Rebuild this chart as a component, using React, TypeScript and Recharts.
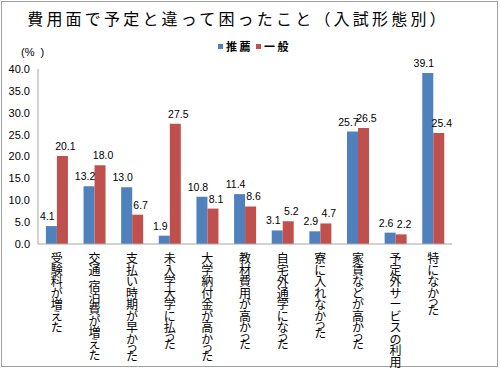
import React from "react";
import { BarChart, Bar, XAxis, YAxis, LabelList } from "recharts";

const categories = [
  "受験料が増えた",
  "交通 宿泊費が増えた",
  "支払い時期が早かった",
  "未入学大学に払った",
  "大学納付金が高かった",
  "教材費用が高かった",
  "自宅外通学になった",
  "寮に入れなかった",
  "家賃などが高かった",
  "予定外サービスの利用",
  "特になかった",
];
const suisen = [4.1, 13.2, 13.0, 1.9, 10.8, 11.4, 3.1, 2.9, 25.7, 2.6, 39.1];
const ippan = [20.1, 18.0, 6.7, 27.5, 8.1, 8.6, 5.2, 4.7, 26.5, 2.2, 25.4];
const yTicks = [0, 5, 10, 15, 20, 25, 30, 35, 40];
const seriesNames = ["推薦", "一般"];
const colors = ["#4F81BD", "#C0504D"];

const data = categories.map((c, i) => ({ name: c, s: suisen[i], g: ippan[i] }));

const JP = '"Noto Sans CJK JP", sans-serif';
const NUM = '"Liberation Sans", Arial, sans-serif';
const SMALL = "っゃゅょッャュョ";

const VTick = (props: any) => {
  const { x, y, payload } = props;
  const chars = Array.from(String(payload.value));
  const step = 11.5;
  let cy = y + 17;
  const out: any[] = [];
  chars.forEach((ch, i) => {
    if (ch === " ") {
      cy += 5;
      return;
    }
    const small = SMALL.includes(ch);
    if (small) cy -= 3;
    out.push(
      <text key={i} x={x} y={cy} textAnchor="middle" fontSize={12} fontFamily={JP} fill="#000">
        {ch}
      </text>
    );
    cy += small ? 8.5 : step;
  });
  return <g>{out}</g>;
};

const makeLabel = (dx: number) => (props: any) => {
  const { x, y, width, value } = props;
  return (
    <text
      x={Number(x) + Number(width) / 2 + dx}
      y={Number(y) - 6}
      textAnchor="middle"
      fontSize={10.5}
      fontFamily={NUM}
      fill="#000"
    >
      {Number(value).toFixed(1)}
    </text>
  );
};

export default function App() {
  return (
    <div style={{ position: "absolute", left: 0, top: 0, width: 500, height: 372, background: "#fff" }}>
      <div
        style={{
          position: "absolute",
          left: 1,
          top: 1,
          width: 495,
          height: 364,
          border: "1px solid #a0a0a0",
        }}
      />
      <div
        style={{
          position: "absolute",
          left: 0,
          top: 7,
          width: 500,
          textAlign: "center",
          fontFamily: JP,
          fontSize: 16,
          letterSpacing: 3.2,
          color: "#000",
          lineHeight: "22px",
          marginLeft: -12,
        }}
      >
        費用面で予定と違って困ったこと（入試形態別）
      </div>
      <div
        style={{
          position: "absolute",
          left: 21,
          top: 46,
          fontFamily: NUM,
          fontSize: 11,
          color: "#000",
          whiteSpace: "pre",
        }}
      >
        (%  )
      </div>
      <div
        style={{
          position: "absolute",
          left: 218,
          top: 38,
          display: "flex",
          fontFamily: JP,
          fontSize: 11,
          fontWeight: 700,
          color: "#000",
          lineHeight: "16px",
        }}
      >
        {seriesNames.map((n, i) => (
          <span key={n} style={{ display: "inline-flex", alignItems: "center", marginRight: 3 }}>
            <span style={{ display: "inline-block", width: 5, height: 5, background: colors[i], marginRight: 3 }} />
            <span style={{ letterSpacing: 2.5 }}>{n}</span>
          </span>
        ))}
      </div>
      <div style={{ position: "absolute", left: 0, top: 0 }}>
        <BarChart
          width={500}
          height={372}
          data={data}
          margin={{ top: 69, right: 48, bottom: 0, left: 0 }}
          barCategoryGap="21%"
          barGap={0}
        >
          <XAxis
            dataKey="name"
            interval={0}
            tickLine={false}
            tickSize={0}
            axisLine={{ stroke: "#a6a6a6" }}
            tick={<VTick />}
            height={128}
          />
          <YAxis
            domain={[0, 40]}
            ticks={yTicks}
            tickFormatter={(v: number) => v.toFixed(1)}
            tickLine={false}
            tickSize={0}
            tickMargin={8}
            width={38}
            axisLine={{ stroke: "#a6a6a6" }}
            tick={{ fill: "#000", fontSize: 11, fontFamily: NUM }}
            interval={0}
          />
          <Bar dataKey="s" name={seriesNames[0]} fill={colors[0]} isAnimationActive={false}>
            <LabelList dataKey="s" content={makeLabel(-4)} />
          </Bar>
          <Bar dataKey="g" name={seriesNames[1]} fill={colors[1]} isAnimationActive={false}>
            <LabelList dataKey="g" content={makeLabel(3)} />
          </Bar>
        </BarChart>
      </div>
    </div>
  );
}
